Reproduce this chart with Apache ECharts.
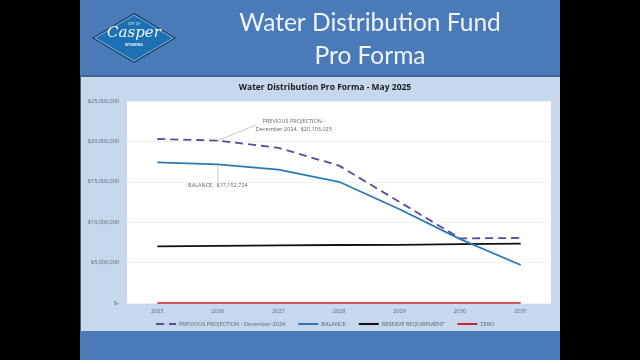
<!DOCTYPE html>
<html>
<head>
	<meta charset="utf-8">
	<title>Water Distribution Fund Pro Forma</title>
	<style>html,body{margin:0;padding:0;background:#000;}</style>
</head>
<body>
<script src="https://cdn.jsdelivr.net/npm/echarts@6/dist/echarts.min.js"></script>
<div id="container" style="width:640px;height:360px;"></div>
<script type="text/javascript">
    var years = ['2025', '2026', '2027', '2028', '2029', '2030', '2031'];
    var previousProjection = [20300000, 20103025, 19200000, 17000000, 12500000, 8000000, 8050000];
    var balance = [17400000, 17152724, 16500000, 15000000, 11600000, 7900000, 4700000];
    var reserve = [7000000, 7080000, 7130000, 7180000, 7200000, 7280000, 7350000];
    var zero = [0, 0, 0, 0, 0, 0, 0];
    var yTicks = ['$-', '$5,000,000', '$10,000,000', '$15,000,000', '$20,000,000', '$25,000,000'];

    var greyText = '#5f6670';
    var myChart = echarts.init(document.getElementById('container'));

    // callout is only on one point of the series
    function calloutData(values, index, text) {
        return values.map(function (v, i) {
            if (i !== index) return v;
            return {
                value: v,
                symbol: 'circle',
                symbolSize: 1,
                label: {
                    show: true, position: 'top', formatter: text, color: greyText, fontSize: 5.5,
                    fontFamily: 'Open Sans', lineHeight: 8, align: 'center'
                }
            };
        });
    }
    var calloutLine = { show: true, lineStyle: { color: '#c8c8c8', width: 1 } };

    var option = {
        backgroundColor: '#000000',
        animation: false,
        title: {
            text: 'Water Distribution Pro Forma - May 2025',
            left: 320, top: 78, textAlign: 'center',
            textStyle: { fontSize: 8.5, fontWeight: 'bold', color: '#1a1a1a', fontFamily: 'Open Sans' }
        },
        graphic: [
            // slide pieces behind the chart
            { type: 'rect', z: -10, shape: { x: 80, y: 0, width: 480, height: 360 }, style: { fill: '#4a7bb8' } },
            { type: 'rect', z: -9, shape: { x: 80, y: 75, width: 480, height: 2 }, style: { fill: '#3f6795' } },
            { type: 'rect', z: -9, shape: { x: 81, y: 77, width: 479, height: 254 }, style: { fill: '#c6d7ee' } },
            { type: 'rect', z: -9, shape: { x: 80, y: 77, width: 1, height: 254 }, style: { fill: '#4a5a6a' } },
            { type: 'rect', z: -8, shape: { x: 127, y: 101, width: 424, height: 202 }, style: { fill: '#ffffff' } },
            { type: 'text', z: 5, style: { x: 370, y: 11, text: 'Water Distribution Fund', fill: '#eef5fc', font: '24.5px Lato', textAlign: 'center' } },
            { type: 'text', z: 5, style: { x: 370, y: 44, text: 'Pro Forma', fill: '#eef5fc', font: '24.5px Lato', textAlign: 'center' } },
            // logo
            { type: 'polygon', z: 5, shape: { points: [[134, 13], [176, 38], [134, 63], [92, 38]] }, style: { fill: '#123f70' } },
            { type: 'polygon', z: 6, shape: { points: [[134, 15], [173, 38], [134, 61], [95, 38]] }, style: { fill: '#1c70b4', stroke: '#e8f1f8', lineWidth: 0.6 } },
            { type: 'text', z: 7, style: { x: 134, y: 26, text: 'Casper', fill: '#f2f7fb', font: 'italic 15px "DejaVu Serif"', textAlign: 'center' } },
            { type: 'text', z: 7, style: { x: 134, y: 22, text: 'CITY OF', fill: '#f2f7fb', font: '3.5px "Open Sans"', textAlign: 'center' } },
            { type: 'text', z: 7, style: { x: 134, y: 43, text: 'WYOMING', fill: '#f2f7fb', font: 'bold 3.5px "Open Sans"', textAlign: 'center' } }
        ],
        grid: { left: 127, right: 89, top: 101, bottom: 57 },
        legend: {
            // itemHeight 1 keeps the line legend's marker hidden inside the line
            left: 155, top: 321, padding: 0, itemWidth: 20, itemHeight: 1, itemGap: 12,
            textStyle: { fontSize: 5.6, color: greyText, fontFamily: 'Open Sans', padding: [0, 0, 0, -2] },
            data: ['PREVIOUS PROJECTION - December 2024', 'BALANCE', 'RESERVE REQUIREMENT', 'ZERO']
        },
        xAxis: {
            type: 'category', data: years, boundaryGap: true,
            axisLine: { show: false }, axisTick: { show: false },
            axisLabel: { fontSize: 5.5, color: greyText, fontFamily: 'Open Sans', margin: 5 }
        },
        yAxis: {
            type: 'value', min: 0, max: 25000000, interval: 5000000,
            axisLine: { show: false }, axisTick: { show: false },
            splitLine: { lineStyle: { color: '#f0f0f0', width: 1 } },
            axisLabel: {
                fontSize: 5.5, color: greyText, fontFamily: 'Open Sans', margin: 8,
                formatter: function (v) { return yTicks[v / 5000000]; }
            }
        },
        series: [
            {
                name: 'PREVIOUS PROJECTION - December 2024', type: 'line', symbol: 'none', z: 3, clip: false,
                data: calloutData(previousProjection, 1, 'PREVIOUS PROJECTION -\nDecember 2024,  $20,103,025'),
                labelLine: calloutLine,
                labelLayout: { dx: 76, dy: -2 },
                lineStyle: { color: '#5a4a9a', width: 1.8, type: [8, 5] },
                itemStyle: { color: '#3a3a78' }
            },
            {
                name: 'BALANCE', type: 'line', symbol: 'none', z: 4, clip: false,
                data: calloutData(balance, 1, 'BALANCE,  $17,152,724'),
                labelLine: calloutLine,
                labelLayout: { dx: 0, dy: 31 },
                lineStyle: { color: '#2a7ab5', width: 1.8 },
                itemStyle: { color: '#2a6fa8' }
            },
            {
                name: 'RESERVE REQUIREMENT', type: 'line', symbol: 'none', z: 3, clip: false,
                data: reserve,
                lineStyle: { color: '#111111', width: 1.8 },
                itemStyle: { color: '#111133' }
            },
            {
                name: 'ZERO', type: 'line', symbol: 'none', z: 3, clip: false,
                data: zero,
                lineStyle: { color: '#d01c2c', width: 1.4 },
                itemStyle: { color: '#c01c3c' }
            }
        ]
    };
    myChart.setOption(option);
</script>
</body>
</html>
